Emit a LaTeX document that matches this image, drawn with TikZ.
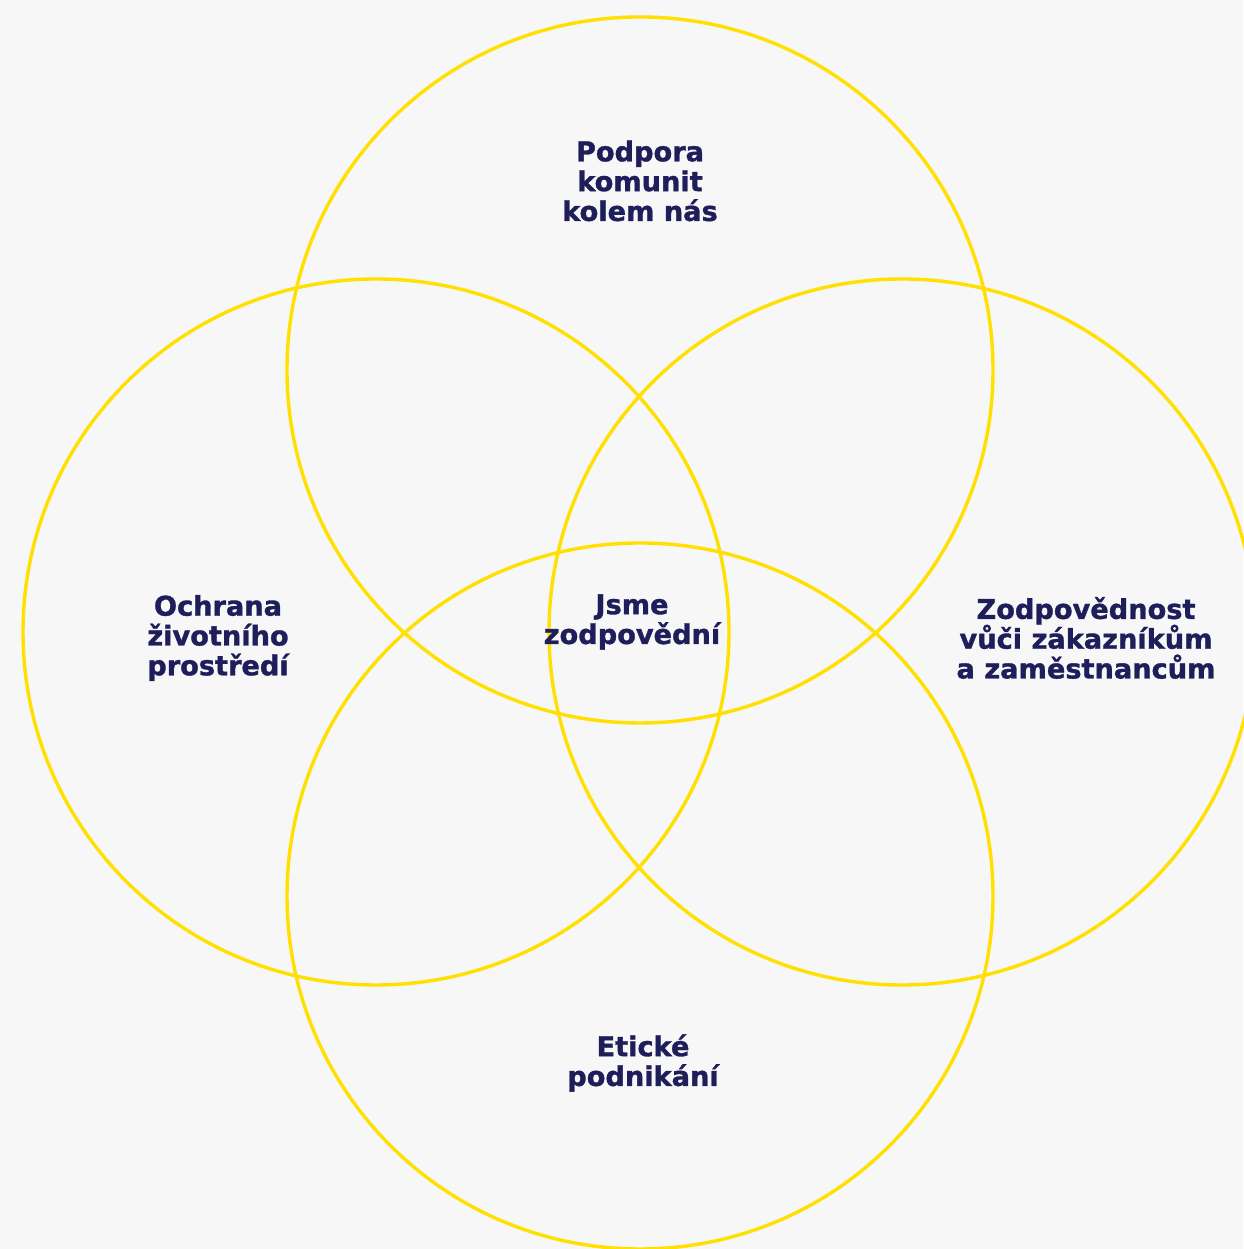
\documentclass[tikz,border=0pt]{standalone}
\usepackage{fontspec}
\setmainfont{DejaVu Sans}[BoldFeatures={FakeBold=1.2}]
\definecolor{bgc}{HTML}{F7F7F7}
\definecolor{ring}{HTML}{FFE000}
\definecolor{navy}{HTML}{1E1E5A}
\begin{document}
\begin{tikzpicture}[x=1pt,y=1pt,
  ringc/.style={draw=ring,line width=3.4pt},
  lbl/.style={text=navy,align=center,font=\fontsize{27.2}{29.8}\selectfont\bfseries,inner sep=0pt}]
\fill[bgc] (0,0) rectangle (1243,1249);
\useasboundingbox (0,0) rectangle (1243,1249);
\draw[ringc] (640,879) circle (353);
\draw[ringc] (376,617) circle (353);
\draw[ringc] (902,617) circle (353);
\draw[ringc] (640,353) circle (353);
\node[lbl] (top) at (640,1068) {Podpora\\komunit\\kolem nás};
\node[lbl] (mid) at (632,627) {Jsme\\zodpovědní};
\node[lbl] (right) at (1086,611) {Zodpovědnost\\vůči zákazníkům\\a zaměstnancům};
\node[lbl] (left) at (218,611) {Ochrana\\životního\\prostředí};
\node[lbl] (bot) at (643,186) {Etické\\podnikání};
\end{tikzpicture}
\end{document}
